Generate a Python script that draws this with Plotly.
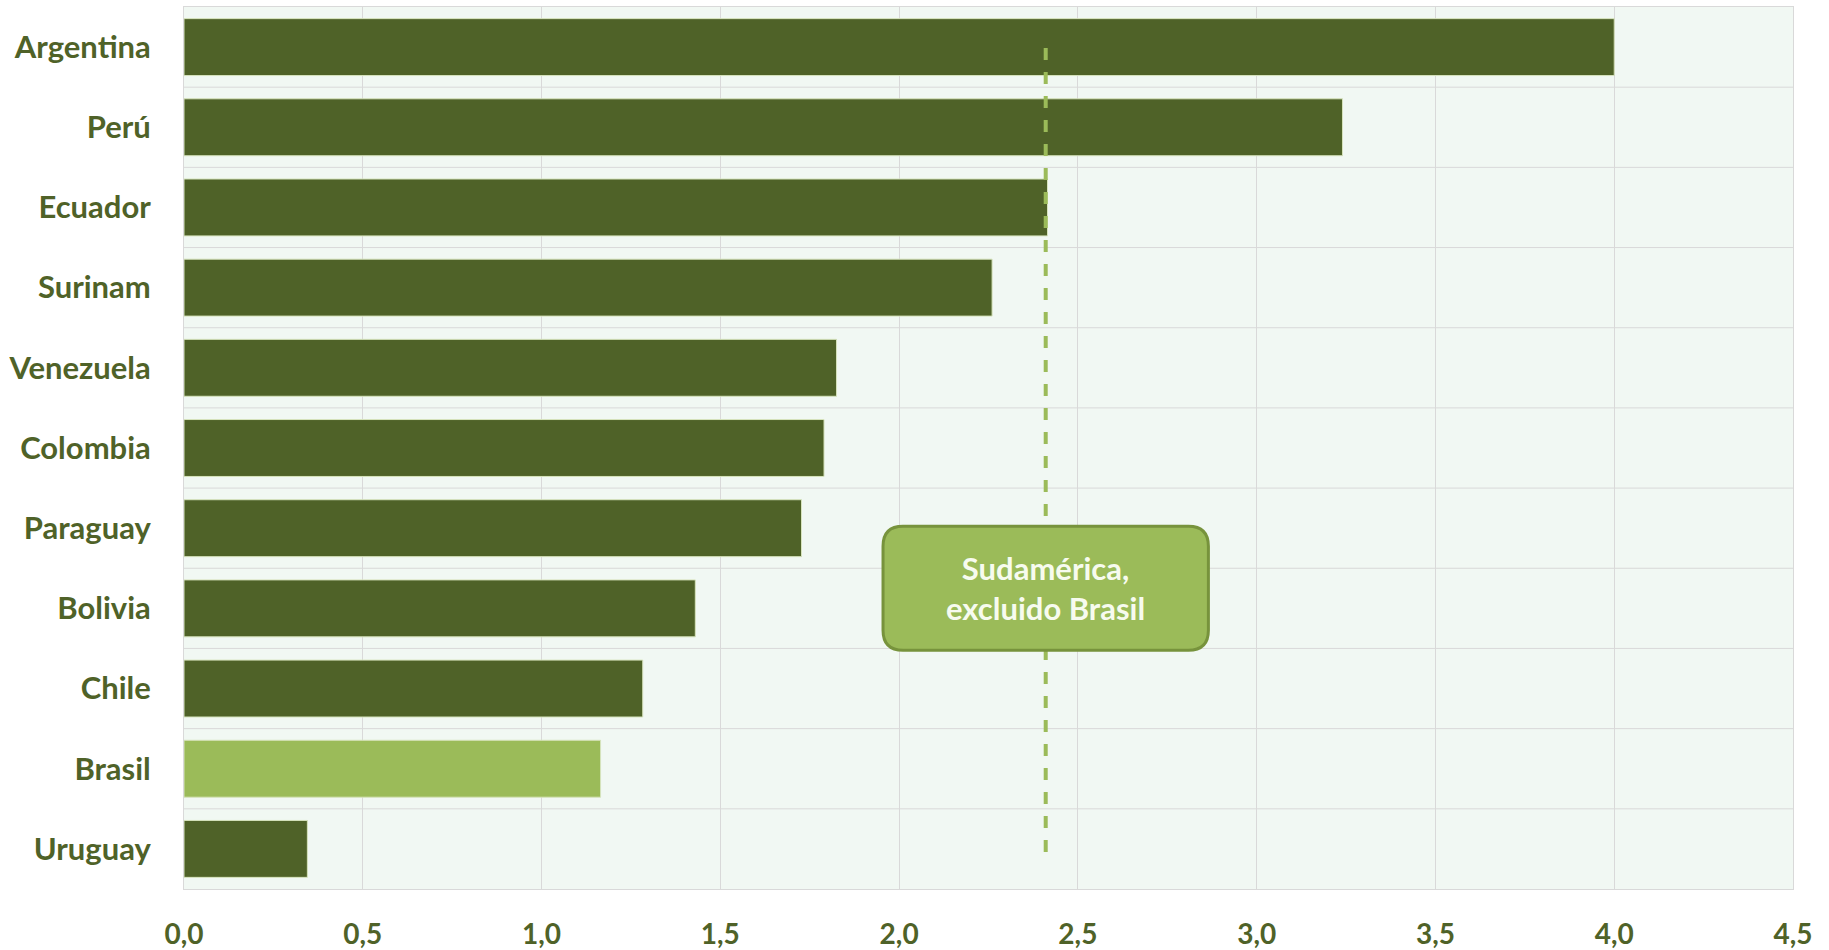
import plotly.graph_objects as go

countries = ["Argentina", "Perú", "Ecuador", "Surinam", "Venezuela", "Colombia",
             "Paraguay", "Bolivia", "Chile", "Brasil", "Uruguay"]
values = [4.00, 3.24, 2.415, 2.26, 1.825, 1.79, 1.727, 1.43, 1.283, 1.165, 0.345]
reference_value = 2.41
reference_label = "Sudamérica,<br>excluido Brasil"
x_ticks = [0, 0.5, 1.0, 1.5, 2.0, 2.5, 3.0, 3.5, 4.0, 4.5]
x_tick_labels = ["0,0", "0,5", "1,0", "1,5", "2,0", "2,5", "3,0", "3,5", "4,0", "4,5"]

DARK = "#4F6228"
LIGHT = "#9BBB59"
colors = [LIGHT if c == "Brasil" else DARK for c in countries]

fig = go.Figure()
fig.add_trace(go.Bar(
    y=countries, x=values, orientation="h",
    marker=dict(color=colors, line=dict(color="#D7E4BD", width=1)),
    width=0.71, hoverinfo="x+y",
))

# dashed reference line
fig.add_shape(type="line", xref="x", yref="paper",
              x0=reference_value, x1=reference_value, y0=0.042, y1=0.958,
              line=dict(color=LIGHT, width=4, dash="dash"), layer="above")

# rounded box
cx, cy = reference_value, 0.341
hw, hh = 0.455, 0.0703
rx, ry = 20 / 357.6, 20 / 882
x0, x1, y0, y1 = cx - hw, cx + hw, cy - hh, cy + hh
path = (f"M {x0+rx},{y0} L {x1-rx},{y0} Q {x1},{y0} {x1},{y0+ry} "
        f"L {x1},{y1-ry} Q {x1},{y1} {x1-rx},{y1} "
        f"L {x0+rx},{y1} Q {x0},{y1} {x0},{y1-ry} "
        f"L {x0},{y0+ry} Q {x0},{y0} {x0+rx},{y0} Z")
fig.add_shape(type="path", xref="x", yref="paper", path=path,
              fillcolor=LIGHT, line=dict(color="#77933C", width=3), layer="above")
fig.add_annotation(x=cx, y=cy, xref="x", yref="paper", text=reference_label,
                   showarrow=False,
                   font=dict(family="Lato", size=31, color="#F7FBEF", weight="bold"),
                   align="center")

fig.update_layout(
    width=1829, height=950,
    margin=dict(l=184, r=36, t=7, b=61, autoexpand=False),
    paper_bgcolor="white", plot_bgcolor="#F1F8F3",
    showlegend=False, bargap=0.29,
    font=dict(family="Lato", color=DARK, size=31, weight="bold"),
)
fig.update_xaxes(range=[0, 4.5], tickvals=x_ticks, ticktext=x_tick_labels,
                 showgrid=True, gridcolor="#D9D9D9", gridwidth=1,
                 showline=True, linecolor="#D9D9D9", mirror=True,
                 zeroline=False, ticks="", ticklabelstandoff=20, automargin=False,
                 tickfont=dict(family="Lato", size=28, color=DARK, weight="bold"))
fig.update_yaxes(categoryorder="array", categoryarray=countries[::-1],
                 showgrid=False, showline=True, linecolor="#D9D9D9", mirror=True,
                 ticks="", ticklabelstandoff=26, automargin=False,
                 tickfont=dict(family="Lato", size=31, color=DARK, weight="bold"))

# horizontal gridlines between categories
for i in range(1, len(countries)):
    fig.add_shape(type="line", xref="paper", yref="y", x0=0, x1=1,
                  y0=i - 0.5, y1=i - 0.5, line=dict(color="#D9D9D9", width=1),
                  layer="below")

fig.write_html("out.html", config={"displayModeBar": False},
               post_script="document.body.style.margin='0';document.body.style.overflow='hidden';")
